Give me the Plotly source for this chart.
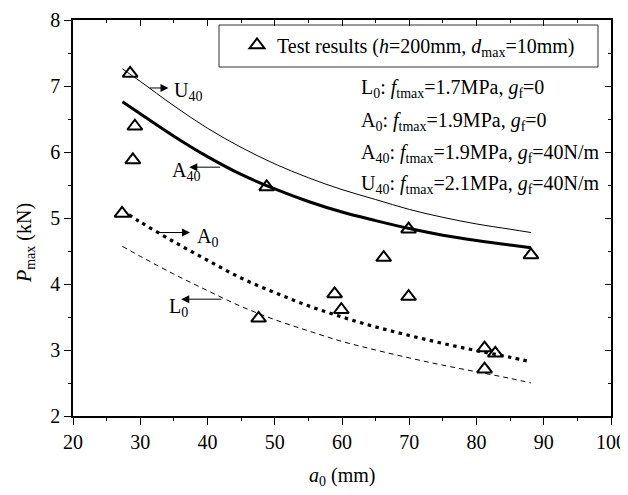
import plotly.graph_objects as go

# ---------------- data ----------------
a0_curve = [27.35, 30, 35, 40, 45, 50, 55, 60, 65, 70, 75, 80, 85, 88.1]
U40 = [7.26, 7.07, 6.70, 6.36, 6.07, 5.82, 5.61, 5.43, 5.28, 5.13, 5.01, 4.91, 4.83, 4.78]
A40 = [6.76, 6.58, 6.24, 5.93, 5.66, 5.44, 5.25, 5.09, 4.96, 4.84, 4.74, 4.66, 4.59, 4.55]
L0 = [4.57, 4.42, 4.15, 3.90, 3.66, 3.46, 3.29, 3.13, 3.00, 2.88, 2.77, 2.67, 2.57, 2.50]
a0_A0 = [28.3, 30, 35, 40, 45, 50, 55, 60, 65, 70, 75, 80, 85, 88.1]
A0 = [5.05, 4.94, 4.64, 4.36, 4.09, 3.87, 3.67, 3.50, 3.35, 3.22, 3.10, 2.99, 2.89, 2.82]

test_a0 = [28.5, 29.2, 28.9, 27.3, 48.8, 47.6, 58.9, 59.9, 66.2, 69.9, 69.9, 81.2, 82.8, 81.2, 88.1]
test_P = [7.19, 6.39, 5.88, 5.07, 5.47, 3.48, 3.85, 3.61, 4.40, 4.83, 3.81, 3.03, 2.95, 2.71, 4.44]

x_ticks = [20, 30, 40, 50, 60, 70, 80, 90, 100]
y_ticks = [2, 3, 4, 5, 6, 7, 8]

FONT = "Liberation Serif"
FS = 20

fig = go.Figure()

fig.add_trace(go.Scatter(x=a0_curve, y=U40, mode="lines", line=dict(color="black", width=1, shape="spline"),
                         showlegend=False, hoverinfo="skip"))
fig.add_trace(go.Scatter(x=a0_curve, y=A40, mode="lines", line=dict(color="black", width=3, shape="spline"),
                         showlegend=False, hoverinfo="skip"))
fig.add_trace(go.Scatter(x=a0_A0, y=A0, mode="lines",
                         line=dict(color="black", width=3.2, dash="3.5px,4.5px", shape="spline"),
                         showlegend=False, hoverinfo="skip"))
fig.add_trace(go.Scatter(x=a0_curve, y=L0, mode="lines",
                         line=dict(color="black", width=1, dash="5px,4px", shape="spline"),
                         showlegend=False, hoverinfo="skip"))
fig.add_trace(go.Scatter(x=test_a0, y=test_P, mode="markers",
                         marker=dict(symbol="triangle-up-open", size=13, color="black",
                                     line=dict(width=2, color="black")),
                         name="Test results (<i>h</i>=200mm, <i>d</i><sub>max</sub>=10mm)",
                         showlegend=True))
# helper trace so the mirrored (top/right) axes are drawn
fig.add_trace(go.Scatter(x=[], y=[], xaxis="x2", yaxis="y2", showlegend=False, hoverinfo="skip"))

axis_common = dict(showgrid=False, zeroline=False, showline=True, linecolor="black", linewidth=1.5,
                   tickcolor="black", tickwidth=1.3, automargin=False)

# page body has an 8px margin, so the figure is offset by 8px; plot area lands at x 73..611, y 20..416
fig.update_layout(
    width=620, height=487,
    margin=dict(l=65, r=17, t=12, b=79, autoexpand=False),
    paper_bgcolor="white", plot_bgcolor="white",
    font=dict(family=FONT, size=FS, color="black"),
    xaxis=dict(range=[20, 100], tickvals=x_ticks, ticks="outside", ticklen=7,
               minor=dict(dtick=5, tick0=20, ticks="outside", ticklen=3.5, tickwidth=1.2, tickcolor="black"),
               tickfont=dict(family=FONT, size=FS), **axis_common),
    yaxis=dict(range=[2, 8], tickvals=y_ticks, ticks="outside", ticklen=7,
               minor=dict(dtick=0.5, tick0=2, ticks="outside", ticklen=3.5, tickwidth=1.2, tickcolor="black"),
               tickfont=dict(family=FONT, size=FS), **axis_common),
    xaxis2=dict(range=[20, 100], overlaying="x", side="top", anchor="y2", tickvals=x_ticks,
                ticks="inside", ticklen=6, showticklabels=False,
                minor=dict(dtick=5, tick0=20, ticks="inside", ticklen=3.5, tickwidth=1.2, tickcolor="black"),
                **axis_common),
    yaxis2=dict(range=[2, 8], overlaying="y", side="right", anchor="x2", tickvals=y_ticks,
                ticks="inside", ticklen=6, showticklabels=False,
                minor=dict(dtick=0.5, tick0=2, ticks="inside", ticklen=3.5, tickwidth=1.2, tickcolor="black"),
                **axis_common),
    legend=dict(x=(237 - 73) / 538, y=(416 - 45) / 396, xanchor="left", yanchor="middle",
                bgcolor="rgba(0,0,0,0)", borderwidth=0, font=dict(family=FONT, size=FS)),
    showlegend=True,
)

# legend frame
fig.add_shape(type="rect", xref="paper", yref="paper",
              x0=(219 - 73) / 538, x1=(598 - 73) / 538, y0=(416 - 67) / 396, y1=(416 - 25) / 396,
              line=dict(color="#333333", width=1), fillcolor="rgba(0,0,0,0)")

# parameter text lines
param_lines = [
    "L<sub>0</sub>: <i>f</i><sub>tmax</sub>=1.7MPa, <i>g</i><sub>f</sub>=0",
    "A<sub>0</sub>: <i>f</i><sub>tmax</sub>=1.9MPa, <i>g</i><sub>f</sub>=0",
    "A<sub>40</sub>: <i>f</i><sub>tmax</sub>=1.9MPa, <i>g</i><sub>f</sub>=40N/m",
    "U<sub>40</sub>: <i>f</i><sub>tmax</sub>=2.1MPa, <i>g</i><sub>f</sub>=40N/m",
]
for i, t in enumerate(param_lines):
    py = 89 + 32 * i
    fig.add_annotation(text=t, xref="paper", yref="paper", x=(359 - 73) / 538, y=(416 - py) / 396,
                       xanchor="left", yanchor="middle", showarrow=False, font=dict(family=FONT, size=FS))

# curve labels
labels = [("U<sub>40</sub>", 34.7, 6.91), ("A<sub>40</sub>", 34.4, 5.70),
          ("A<sub>0</sub>", 38.1, 4.71), ("L<sub>0</sub>", 34.0, 3.64)]
for t, lx, ly in labels:
    fig.add_annotation(text=t, x=lx, y=ly, xref="x", yref="y", xanchor="left", yanchor="middle",
                       showarrow=False, font=dict(family=FONT, size=FS))

# arrows (tail -> head)
arrows = [(31.2, 6.97, 34.2, 6.97), (42.1, 5.77, 37.3, 5.77),
          (32.4, 4.78, 37.4, 4.78), (42.3, 3.77, 36.1, 3.77)]
for tx, ty, hx, hy in arrows:
    fig.add_annotation(text="", x=hx, y=hy, ax=tx, ay=ty, xref="x", yref="y", axref="x", ayref="y",
                       showarrow=True, arrowhead=2, arrowsize=1.6, arrowwidth=1, arrowcolor="black",
                       standoff=0, startstandoff=0)

# axis titles
fig.add_annotation(text="<i>a</i><sub>0</sub> (mm)", xref="paper", yref="paper", x=0.5, y=(416 - 476) / 396,
                   xanchor="center", yanchor="middle", showarrow=False, font=dict(family=FONT, size=FS))
fig.add_annotation(text="<i>P</i><sub>max</sub> (kN)", xref="paper", yref="paper", x=(25 - 73) / 538,
                   y=(416 - 243) / 396, xanchor="center", yanchor="middle", textangle=-90,
                   showarrow=False, font=dict(family=FONT, size=FS))

fig.write_html("out.html")
